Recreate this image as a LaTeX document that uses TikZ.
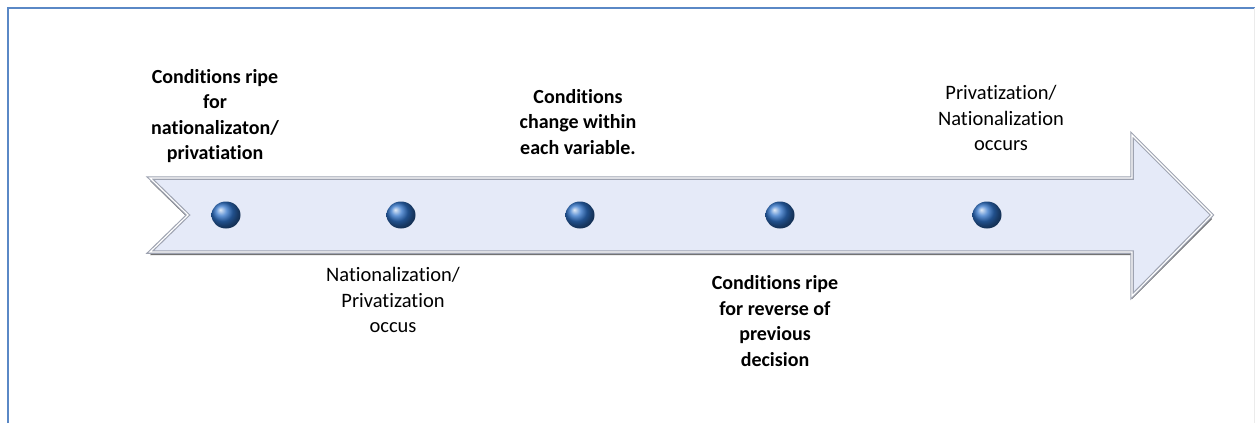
\documentclass[tikz,border=0pt]{standalone}
\usepackage{fontspec}
\setmainfont{Carlito}[Ligatures=NoCommon]
\begin{document}
\begin{tikzpicture}[x=1pt,y=-1pt,
  frameline/.style={draw=frameblue,line width=2.2pt},
  stepball/.style={ellipse,minimum width=29pt,minimum height=27pt,inner sep=0pt,
    shading=ball,ball color=ballblue},
  steptext/.style={align=center,inner sep=0pt,font=\fontsize{20.5}{25.5}\selectfont},
  boldtext/.style={steptext,font=\fontsize{20}{25.5}\selectfont\bfseries}]
\definecolor{frameblue}{HTML}{5A88C6}
\definecolor{arrowfill}{HTML}{E5EAF8}
\definecolor{arrowedge}{HTML}{9EA3B1}
\definecolor{ballblue}{HTML}{2F72C8}
\usetikzlibrary{shapes.geometric}
\useasboundingbox (0,0) rectangle (1255,423);
\fill[white] (0,0) rectangle (1255,423);
% frame
\draw[frameline] (8,423) -- (8,8) -- (1255,8);
\draw[draw=black!8,line width=1pt] (1254,8) -- (1254,423);
% timeline arrow: shadow, body, bevel
\fill[black,opacity=0.55] (150,181) -- (1132,181) -- (1132,138) -- (1212,219) -- (1132,299) -- (1132,255) -- (150,255) -- (188,218) -- cycle;
\path[fill=arrowfill,draw=arrowedge,line width=3.5pt,line join=miter]
  (150,178) -- (1132,178) -- (1132,135) -- (1212,215) -- (1132,296) -- (1132,252) -- (150,252) -- (188,215) -- cycle;
\draw[white,line width=1.2pt]
  (150,178) -- (1132,178) -- (1132,135) -- (1212,215) -- (1132,296) -- (1132,252) -- (150,252) -- (188,215) -- cycle;
% milestones
\node[stepball] (b1) at (226,215) {};
\node[stepball] (b2) at (401,215) {};
\node[stepball] (b3) at (580,215) {};
\node[stepball] (b4) at (780,215) {};
\node[stepball] (b5) at (987,215) {};
% labels
\node[boldtext] (t1) at (215,116) {Conditions ripe\\for\\nationalizaton/\\privatiation};
\node[steptext] (t2) at (393,300) {Nationalization/\\Privatization\\occus};
\node[boldtext] (t3) at (578,122) {Conditions\\change within\\each variable.};
\node[boldtext] (t4) at (775,321) {Conditions ripe\\for reverse of\\previous\\decision};
\node[steptext] (t5) at (1001,118) {Privatization/\\Nationalization\\occurs};
\end{tikzpicture}
\end{document}
